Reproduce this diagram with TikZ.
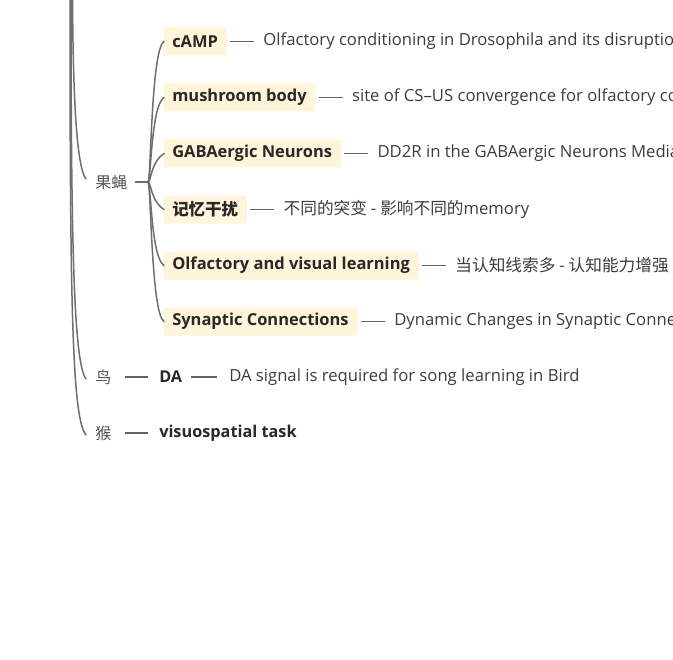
\documentclass[tikz,border=0pt]{standalone}
\usepackage{fontspec}
\setmainfont{Open Sans}
\newfontfamily\cjk{Noto Sans CJK SC}
\newlength\pxu
\setlength\pxu{0.75pt}
\definecolor{treegray}{RGB}{110,110,110}
\definecolor{boxfill}{RGB}{254,245,218}
\definecolor{labeltext}{RGB}{40,40,40}
\definecolor{desctext}{RGB}{60,60,60}
\definecolor{cattext}{RGB}{85,85,85}
\tikzset{
  tree/.style={draw=treegray, line width=1.5\pxu, line cap=round},
  link/.style={draw=treegray!90!black, line width=1.4\pxu, shorten <=3\pxu, shorten >=9\pxu},
  box/.style={fill=boxfill, rounded corners=2\pxu, inner xsep=9\pxu, inner ysep=0pt,
     minimum height=28\pxu, font=\fontsize{12.35pt}{15pt}\selectfont\bfseries, text=labeltext, anchor=west},
  desc/.style={inner sep=0pt, anchor=west, text=desctext, font=\fontsize{12.5pt}{15pt}\selectfont},
  cat/.style={inner sep=0pt, anchor=west, text=cattext, font=\fontsize{12pt}{14pt}\selectfont\cjk},
  plainbold/.style={inner sep=0pt, anchor=west, text=labeltext, font=\fontsize{12.2pt}{15pt}\selectfont\bfseries}
}
\begin{document}
\begin{tikzpicture}[x=\pxu,y=-\pxu]
\useasboundingbox (0,0) rectangle (673,659);
\clip (0,0) rectangle (673,659);
% root coordinates (branches come from above)
\coordinate (r1) at (72.5,-5);
\coordinate (r2) at (71,-5);
\coordinate (r3) at (70,-5);
% categories
\node[cat] (fly) at (95,182) {果蝇};
\node[cat] (bird) at (95,377) {鸟};
\node[cat] (monkey) at (95,433) {猴};
\coordinate (flyend) at (86,179);
\coordinate (birdend) at (86,379);
\coordinate (monkeyend) at (86,435);
\draw[tree] (r1) .. controls (73,90) and (76,166) .. (flyend);
\draw[tree] (r2) .. controls (71,250) and (74,363) .. (birdend);
\draw[tree] (r3) .. controls (70,300) and (72,419) .. (monkeyend);
% fly children
\node[box] (b1) at (163,41.5) {cAMP};
\node[box] (b2) at (163,97.5) {mushroom body};
\node[box] (b3) at (163,153.5) {GABAergic Neurons};
\node[box] (b4) at (163,209.5) {\cjk 记忆干扰};
\node[box] (b5) at (163,265.5) {Olfactory and visual learning};
\node[box] (b6) at (163,321.5) {Synaptic Connections};
\node[desc] (d1) at ([xshift=36\pxu]b1.east) {Olfactory conditioning in Drosophila and its disruption};
\node[desc] (d2) at ([xshift=36\pxu]b2.east) {site of CS–US convergence for olfactory conditioning};
\node[desc] (d3) at ([xshift=36\pxu]b3.east) {DD2R in the GABAergic Neurons Mediates};
\node[desc] (d4) at ([xshift=36\pxu]b4.east) {{\cjk 不同的突变 - 影响不同的}memory};
\node[desc] (d5) at ([xshift=36\pxu]b5.east) {\cjk 当认知线索多 - 认知能力增强};
\node[desc] (d6) at ([xshift=36\pxu]b6.east) {Dynamic Changes in Synaptic Connections};
\foreach \i in {1,...,6} {\draw[link] (b\i.east) -- (d\i.west);}
% fly junction
\coordinate (fj) at (148,182);
\draw[tree, shorten <=8\pxu] (fly.east) -- (fj);
\foreach \i in {1,...,6} {
  \draw[tree] (fj) .. controls (151,182) and (151,{\i*56-14.5+8*sign(182-(\i*56-14.5))}) .. ([xshift=1\pxu]b\i.west);
}
% bird row
\node[plainbold] (da) at (159,377) {DA};
\node[desc] (dad) at (229,377) {DA signal is required for song learning in Bird};
\draw[link, shorten <=13\pxu, shorten >=11\pxu] (bird.east) -- (da.west);
\draw[link, shorten <=9\pxu, shorten >=12\pxu] (da.east) -- (dad.west);
% monkey row
\node[plainbold] (vt) at (159,433) {visuospatial task};
\draw[link, shorten <=13\pxu, shorten >=11\pxu] (monkey.east) -- (vt.west);
\end{tikzpicture}
\end{document}
